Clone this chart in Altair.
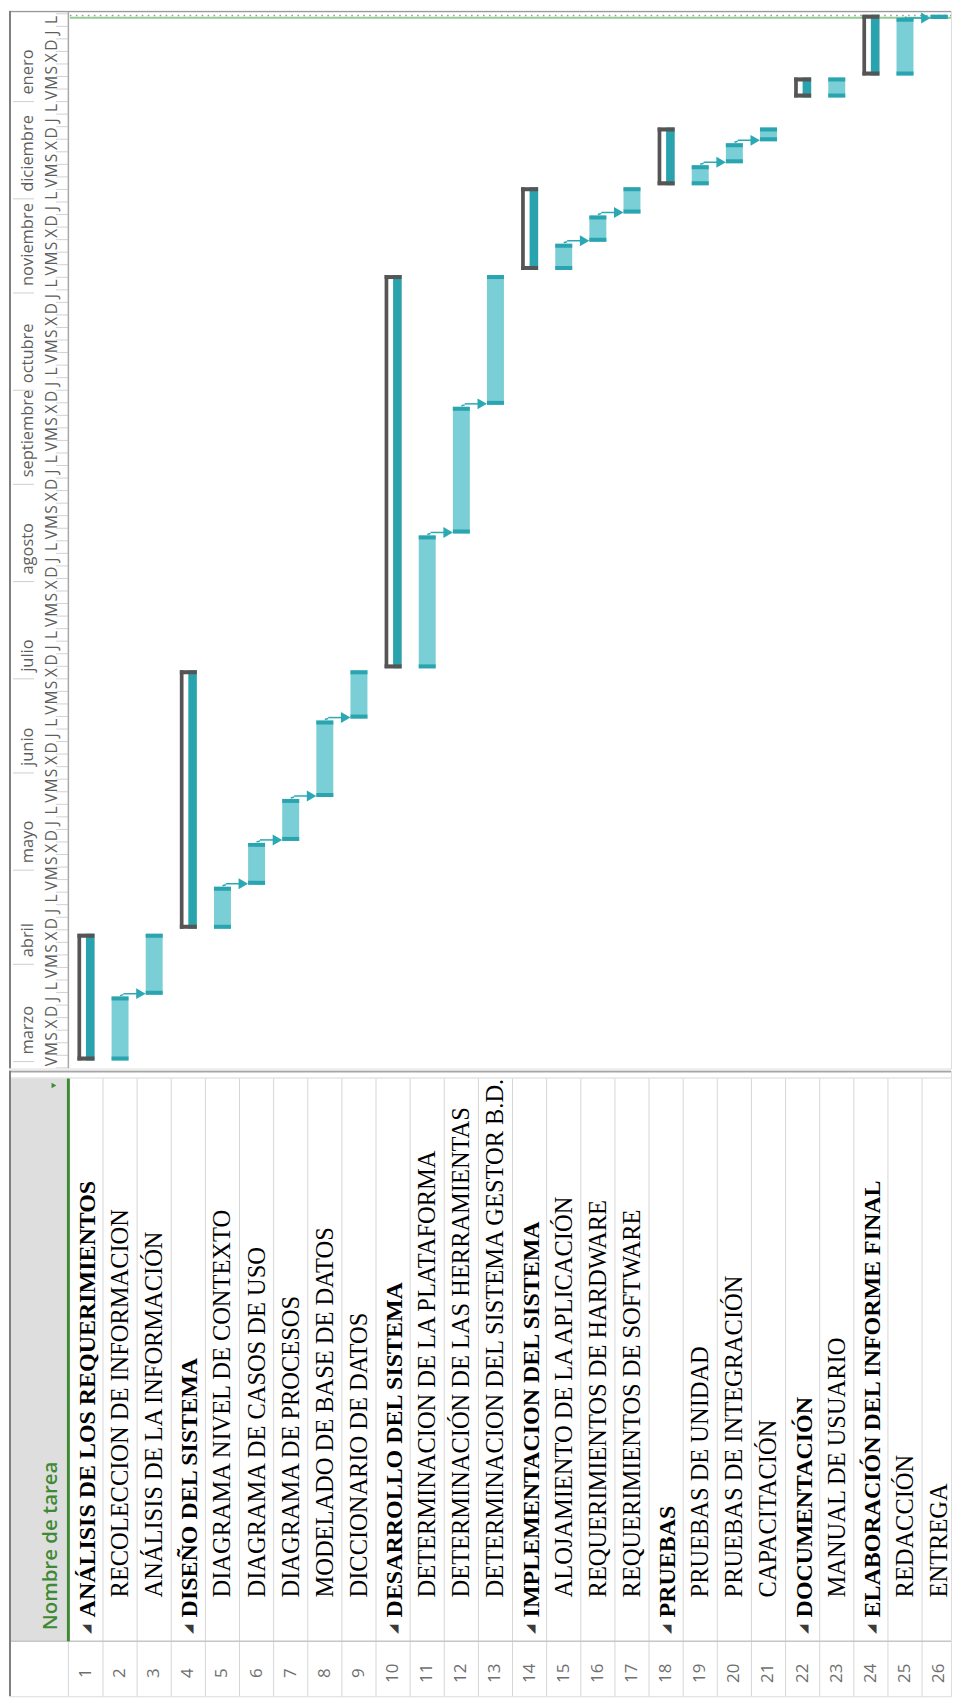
import altair as alt
import pandas as pd

# ---------------- data ----------------
TASK_IDS = list(range(1, 27))
TASK_NAMES = [
    "ANÁLISIS DE LOS REQUERIMIENTOS",
    "RECOLECCION DE INFORMACION",
    "ANÁLISIS DE LA INFORMACIÓN",
    "DISEÑO DEL SISTEMA",
    "DIAGRAMA NIVEL DE CONTEXTO",
    "DIAGRAMA DE CASOS DE USO",
    "DIAGRAMA DE PROCESOS",
    "MODELADO DE BASE DE DATOS",
    "DICCIONARIO DE DATOS",
    "DESARROLLO DEL SISTEMA",
    "DETERMINACION DE LA PLATAFORMA",
    "DETERMINACIÓN DE LAS HERRAMIENTAS",
    "DETERMINACION DEL SISTEMA GESTOR B.D.",
    "IMPLEMENTACION DEL SISTEMA",
    "ALOJAMIENTO DE LA APLICACIÓN",
    "REQUERIMIENTOS DE HARDWARE",
    "REQUERIMIENTOS DE SOFTWARE",
    "PRUEBAS",
    "PRUEBAS DE UNIDAD",
    "PRUEBAS DE INTEGRACIÓN",
    "CAPACITACIÓN",
    "DOCUMENTACIÓN",
    "MANUAL DE USUARIO",
    "ELABORACIÓN DEL INFORME FINAL",
    "REDACCIÓN",
    "ENTREGA",
]
# 0 = summary task, 1 = subtask
TASK_LEVELS = [0, 1, 1, 0, 1, 1, 1, 1, 1, 0, 1, 1, 1, 0, 1, 1, 1, 0, 1, 1, 1, 0, 1, 0, 1, 1]
TASK_START = [
    "2019-03-01", "2019-03-01", "2019-03-22", "2019-04-12", "2019-04-12",
    "2019-04-26", "2019-05-10", "2019-05-24", "2019-06-18", "2019-07-04",
    "2019-07-04", "2019-08-16", "2019-09-26", "2019-11-08", "2019-11-08",
    "2019-11-17", "2019-11-26", "2019-12-05", "2019-12-05", "2019-12-12",
    "2019-12-19", "2020-01-02", "2020-01-02", "2020-01-09", "2020-01-09",
    "2020-01-27",
]
TASK_END = [
    "2019-04-10", "2019-03-21", "2019-04-10", "2019-07-03", "2019-04-25",
    "2019-05-09", "2019-05-23", "2019-06-17", "2019-07-03", "2019-11-06",
    "2019-08-15", "2019-09-25", "2019-11-06", "2019-12-04", "2019-11-16",
    "2019-11-25", "2019-12-04", "2019-12-23", "2019-12-11", "2019-12-18",
    "2019-12-23", "2020-01-08", "2020-01-08", "2020-01-28", "2020-01-27",
    "2020-01-28",
]
LINKS_FROM = [2, 5, 6, 7, 8, 11, 12, 15, 16, 19, 20, 25]
LINKS_TO = [3, 6, 7, 8, 9, 12, 13, 16, 17, 20, 21, 26]

MONTH_NAMES = ["marzo", "abril", "mayo", "junio", "julio", "agosto",
               "septiembre", "octubre", "noviembre", "diciembre", "enero"]
MONTH_STARTS = ["2019-03-01", "2019-04-01", "2019-05-01", "2019-06-01",
                "2019-07-01", "2019-08-01", "2019-09-01", "2019-10-01",
                "2019-11-01", "2019-12-01", "2020-01-01"]
DAY_INITIALS = ["L", "M", "X", "J", "V", "S", "D"]  # lunes .. domingo
TIMESCALE_FIRST = "2019-03-01"
TIMESCALE_LAST = "2020-01-27"
STATUS_LINE_DATES = ["2020-01-28T10:45:00", "2020-01-27T17:30:00"]
HEADER_TEXT = "Nombre de tarea"

# ---------------- layout ----------------
ROW_PX = 34.2
LEFT_PX = 60
W = 944
TOP_H = 1060
BOT_H = 627
XMIN = -LEFT_PX / ROW_PX
XMAX = (W - LEFT_PX) / ROW_PX
HALF = 8.5 / ROW_PX
LEFT_LINE = 3.7 / ROW_PX

LIGHT = "#7ACFD6"
CAP = "#2AA5AF"
SUMM = "#29A3AD"
DARK = "#555555"
ARROW = "#2AA9B5"
GRAY_TXT = "#5e5e5e"
GREEN = "#3E8A34"

xs = alt.Scale(domain=[XMIN, XMAX], nice=False, zero=False)
ys = alt.Scale(domain=[alt.DateTime(year=2019, month=2, date=26, hours=18, minutes=33),
                       alt.DateTime(year=2020, month=1, date=29, hours=22, minutes=48)],
               nice=False)


def X(f):
    return alt.X(f, type="quantitative", scale=xs, axis=None, title=None)


def Y(f):
    return alt.Y(f, type="temporal", scale=ys, axis=None, title=None)


tasks = pd.DataFrame({
    "id": TASK_IDS,
    "name": TASK_NAMES,
    "level": TASK_LEVELS,
    "start": pd.to_datetime(TASK_START) + pd.Timedelta(hours=8),
    "end": pd.to_datetime(TASK_END) + pd.Timedelta(hours=17),
})
tasks["c"] = tasks["id"] - 0.5
tasks["x0"] = tasks["c"] - HALF
tasks["x1"] = tasks["c"] + HALF
tasks["xin"] = tasks["x0"] + LEFT_LINE
tasks["num"] = tasks["id"].astype(str)

sub = tasks[tasks["level"] == 1]
summ = tasks[tasks["level"] == 0]

link_rows = []
for a, b in zip(LINKS_FROM, LINKS_TO):
    ta = tasks.iloc[a - 1]
    tb = tasks.iloc[b - 1]
    link_rows.append({
        "xs": ta["c"], "xm": ta["c"] + 0.1, "xe": tb["x0"] - 0.2, "xa": tb["x0"] - 0.14,
        "y0": ta["end"], "y1": tb["start"],
    })
links = pd.DataFrame(link_rows)

ticks = pd.date_range(TIMESCALE_FIRST, TIMESCALE_LAST, freq="4D")
days = pd.DataFrame({"date": ticks, "letter": [DAY_INITIALS[d.dayofweek] for d in ticks]})
day_seps = pd.DataFrame({"date": list(ticks - pd.Timedelta(days=2)) + [ticks[-1] + pd.Timedelta(days=2)]})
months = pd.DataFrame({"name": MONTH_NAMES, "start": pd.to_datetime(MONTH_STARTS)})
status = pd.DataFrame({"date": pd.to_datetime(STATUS_LINE_DATES), "kind": ["fin", "hoy"]})
one = pd.DataFrame({"k": [0]})


def vrule(px, y0, y1, color, w):
    return alt.Chart(one).mark_rule(color=color, strokeWidth=w, clip=True).encode(
        x=alt.value(px), y=alt.value(y0), y2=alt.value(y1))


def hrule(py, x0, x1, color, w):
    return alt.Chart(one).mark_rule(color=color, strokeWidth=w, clip=True).encode(
        x=alt.value(x0), x2=alt.value(x1), y=alt.value(py))


# ---------------- top: timescale + gantt ----------------
top_layers = [
    hrule(0.75, 0, W, "#9a9a9a", 1.5),
    # timescale header
    alt.Chart(months).mark_rule(color="#cfcfcf", strokeWidth=1, clip=True).encode(
        x=alt.value(4), x2=alt.value(25), y=Y("start")),
    alt.Chart(months).mark_text(angle=270, align="left", baseline="middle", dx=7,
                                font="Open Sans", fontSize=16.5, color=GRAY_TXT, clip=True).encode(
        x=alt.value(19), y=Y("start"), text="name:N"),
    alt.Chart(day_seps).mark_rule(color="#d2d2d2", strokeWidth=1, clip=True).encode(
        x=alt.value(47), x2=alt.value(59), y=Y("date")),
    alt.Chart(days).mark_text(angle=270, align="center", baseline="middle",
                              font="Open Sans", fontSize=15.5, color=GRAY_TXT, clip=True).encode(
        x=alt.value(43), y=Y("date"), text="letter:N"),
    vrule(1, 0, TOP_H, "#7f7f7f", 2),
    vrule(59.5, 0, TOP_H, "#a8a8a8", 1.5),
    # status lines
    alt.Chart(status[status["kind"] == "fin"]).mark_rule(
        color="#9a9a9a", strokeWidth=1.6, strokeDash=[1.6, 4.4], clip=True).encode(
        x=alt.value(61), x2=alt.value(W), y=Y("date")),
    alt.Chart(status[status["kind"] == "hoy"]).mark_rule(
        color="#94cc94", strokeWidth=1.8, clip=True).encode(
        x=alt.value(61), x2=alt.value(W), y=Y("date")),
    # summary bars
    alt.Chart(summ).mark_rect(color=DARK, clip=True).encode(
        x=X("x0"), x2="x1", y=Y("start"), y2="end"),
    alt.Chart(summ).mark_rect(color="white", clip=True).encode(
        x=X("xin"), x2="x1", y=Y("start"), y2="end"),
    alt.Chart(summ).mark_rect(color=SUMM, clip=True).encode(
        x=X("c"), x2="x1", y=Y("start"), y2="end"),
    alt.Chart(summ).mark_rule(color=DARK, strokeWidth=4, yOffset=-2, clip=True).encode(
        x=X("x0"), x2="x1", y=Y("start")),
    alt.Chart(summ).mark_rule(color=DARK, strokeWidth=4, yOffset=2, clip=True).encode(
        x=X("x0"), x2="x1", y=Y("end")),
    # task bars
    alt.Chart(sub).mark_rect(color=LIGHT, clip=True).encode(
        x=X("x0"), x2="x1", y=Y("start"), y2="end"),
    alt.Chart(sub).mark_rule(color=CAP, strokeWidth=4, yOffset=-2, clip=True).encode(
        x=X("x0"), x2="x1", y=Y("start")),
    alt.Chart(sub).mark_rule(color=CAP, strokeWidth=4, yOffset=2, clip=True).encode(
        x=X("x0"), x2="x1", y=Y("end")),
    # links
    alt.Chart(links).mark_rule(color=ARROW, strokeWidth=1.5, yOffset=-1, clip=True).encode(
        x=X("xs"), x2="xm", y=Y("y0"), y2="y1"),
    alt.Chart(links).mark_rule(color=ARROW, strokeWidth=1.5, yOffset=-1, clip=True).encode(
        x=X("xm"), x2="xe", y=Y("y1")),
    alt.Chart(links).mark_point(shape="triangle-right", filled=True, size=120, opacity=1,
                                color=ARROW, yOffset=-1, clip=True).encode(
        x=X("xa"), y=Y("y1")),
]
top = alt.layer(*top_layers).properties(width=W, height=TOP_H)

# ---------------- bottom: task table ----------------
bounds = pd.DataFrame({"u": list(range(1, 26))})
NAME_BASE_SUB = 528
NAME_BASE_SUM = 548
bottom_layers = [
    hrule(1, 0, W, "#a6a6a6", 2),
    hrule(7.5, 0, W, "#d6d6d6", 1),
    alt.Chart(one).mark_rect(color="#dedede", clip=True).encode(
        x=alt.value(0), x2=alt.value(58), y=alt.value(8), y2=alt.value(572)),
    alt.Chart(bounds).mark_rule(color="#d6d6d6", strokeWidth=1, clip=True).encode(
        x=X("u"), y=alt.value(8), y2=alt.value(BOT_H)),
    vrule(59.5, 572, BOT_H, "#d6d6d6", 1),
    hrule(572, 0, W, "#c6c6c6", 1.5),
    vrule(59.5, 8, 572, GREEN, 3),
    vrule(1, 0, BOT_H, "#7f7f7f", 2),
    alt.Chart(one).mark_text(text=HEADER_TEXT, angle=270, align="left", baseline="middle",
                             font="Open Sans", fontSize=20.5, fontWeight=600, color=GREEN,
                             clip=True).encode(x=alt.value(42), y=alt.value(561)),
    alt.Chart(one).mark_point(shape="triangle-right", filled=True, size=30, opacity=1,
                              color=GREEN, clip=True).encode(x=alt.value(45), y=alt.value(15)),
    alt.Chart(summ).mark_text(text="◢", angle=270, align="center", baseline="middle",
                              font="DejaVu Sans", fontSize=12, color="#3a3a3a", clip=True).encode(
        x=X("c"), y=alt.value(560)),
    alt.Chart(summ).mark_text(angle=270, align="left", baseline="middle", dy=2,
                              font="Liberation Serif", fontSize=24, fontWeight="bold",
                              color="black", clip=True).encode(
        x=X("c"), y=alt.value(NAME_BASE_SUM), text="name:N"),
    alt.Chart(sub).mark_text(angle=270, align="left", baseline="middle", dy=1,
                             font="Liberation Serif", fontSize=24.5, color="black",
                             clip=True).encode(
        x=X("c"), y=alt.value(NAME_BASE_SUB), text="name:N"),
    alt.Chart(tasks).mark_text(angle=270, align="center", baseline="middle",
                               font="Open Sans", fontSize=17, color="#6f6f6f",
                               clip=True).encode(
        x=X("c"), y=alt.value(604), text="num:N"),
]
bottom = alt.layer(*bottom_layers).properties(width=W, height=BOT_H)

chart = (
    alt.vconcat(top, bottom, spacing=0)
    .properties(padding=0)
    .configure_view(stroke=None)
    .configure(background="white")
)

chart.save("out.html", embed_options={"renderer": "svg", "actions": False})
